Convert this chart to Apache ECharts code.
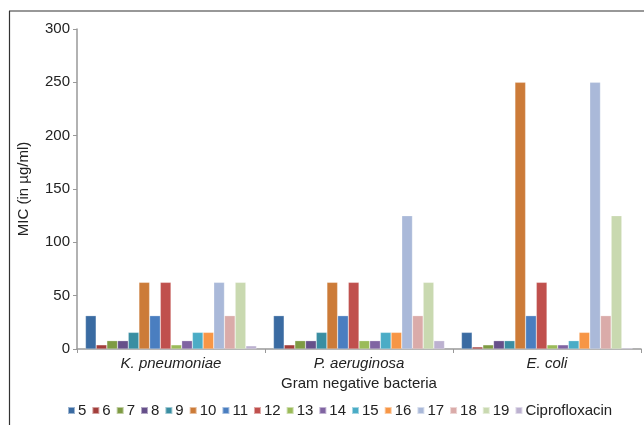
<!DOCTYPE html>
<html>
<head>
<meta charset="utf-8">
<script src="https://cdn.jsdelivr.net/npm/echarts@6/dist/echarts.min.js"></script>
<style>html,body{margin:0;padding:0;background:#fff}#c{width:644px;height:425px}</style>
</head>
<body>
<div id="c"></div>
<script>
const categories = ['K. pneumoniae', 'P. aeruginosa', 'E. coli'];
const seriesNames = ['5','6','7','8','9','10','11','12','13','14','15','16','17','18','19','Ciprofloxacin'];
const s5  = [31.25, 31.25, 15.6];
const s6  = [3.9, 3.9, 1.95];
const s7  = [7.8, 7.8, 3.9];
const s8  = [7.8, 7.8, 7.8];
const s9  = [15.6, 15.6, 7.8];
const s10 = [62.5, 62.5, 250];
const s11 = [31.25, 31.25, 31.25];
const s12 = [62.5, 62.5, 62.5];
const s13 = [3.9, 7.8, 3.9];
const s14 = [7.8, 7.8, 3.9];
const s15 = [15.6, 15.6, 7.8];
const s16 = [15.6, 15.6, 15.6];
const s17 = [62.5, 125, 250];
const s18 = [31.25, 31.25, 31.25];
const s19 = [62.5, 62.5, 125];
const sCipro = [3, 7.8, 1];
const yTicks = [0, 50, 100, 150, 200, 250, 300];

const allValues = [s5,s6,s7,s8,s9,s10,s11,s12,s13,s14,s15,s16,s17,s18,s19,sCipro];
const colors = ['#3A6BA2','#A33E3B','#7E9B43','#66508A','#3A8EA2','#CC7B38','#4A7EC0','#C0504D',
  '#9BBB59','#8064A2','#4BACC6','#F79646','#AAB9D9','#DAABA9','#C9D9B0','#BCB1D0'];

const chart = echarts.init(document.getElementById('c'), null, {renderer: 'canvas'});
const font = 'Liberation Sans, Arial, sans-serif';
chart.setOption({
  animation: false,
  color: colors,
  textStyle: {fontFamily: font},
  grid: {left: 77, right: 3, top: 29, bottom: 76, containLabel: false},
  xAxis: {
    type: 'category',
    data: categories,
    name: 'Gram negative bacteria',
    nameLocation: 'middle',
    nameGap: 26,
    nameTextStyle: {fontSize: 15, color: '#222', fontFamily: font},
    axisLine: {lineStyle: {color: '#999', width: 1.5}},
    axisTick: {show: true, length: 4, lineStyle: {color: '#999'}},
    axisLabel: {fontSize: 15, fontStyle: 'italic', color: '#222', margin: 7, fontFamily: font}
  },
  yAxis: {
    type: 'value',
    min: 0, max: 300, interval: 50,
    name: 'MIC (in µg/ml)',
    nameLocation: 'middle',
    nameGap: 46,
    nameTextStyle: {fontSize: 15, color: '#222', fontFamily: font},
    axisLine: {show: true, lineStyle: {color: '#999', width: 1.5}},
    axisTick: {show: true, length: 4, lineStyle: {color: '#999'}},
    axisLabel: {fontSize: 15, color: '#222', margin: 7, fontFamily: font,
      formatter: v => yTicks.includes(v) ? String(v) : ''},
    splitLine: {show: false}
  },
  legend: {
    bottom: 2, left: 62, width: 600,
    itemWidth: 7, itemHeight: 7, itemGap: 5,
    icon: 'rect',
    textStyle: {fontSize: 15, color: '#222', padding: [0,0,0,-2], fontFamily: font},
    data: seriesNames
  },
  graphic: [
    {type: 'line', shape: {x1: 9.5, y1: 11, x2: 9.5, y2: 425}, style: {stroke: '#333', lineWidth: 1.2}},
    {type: 'line', shape: {x1: 9, y1: 11, x2: 644, y2: 11}, style: {stroke: '#333', lineWidth: 1.2}}
  ],
  series: seriesNames.map((n, i) => ({
    name: n,
    type: 'bar',
    data: allValues[i],
    barGap: '0%',
    barCategoryGap: '9%',
    itemStyle: {borderColor: 'rgba(255,255,255,0.5)', borderWidth: 0.5}
  }))
});
</script>
</body>
</html>
